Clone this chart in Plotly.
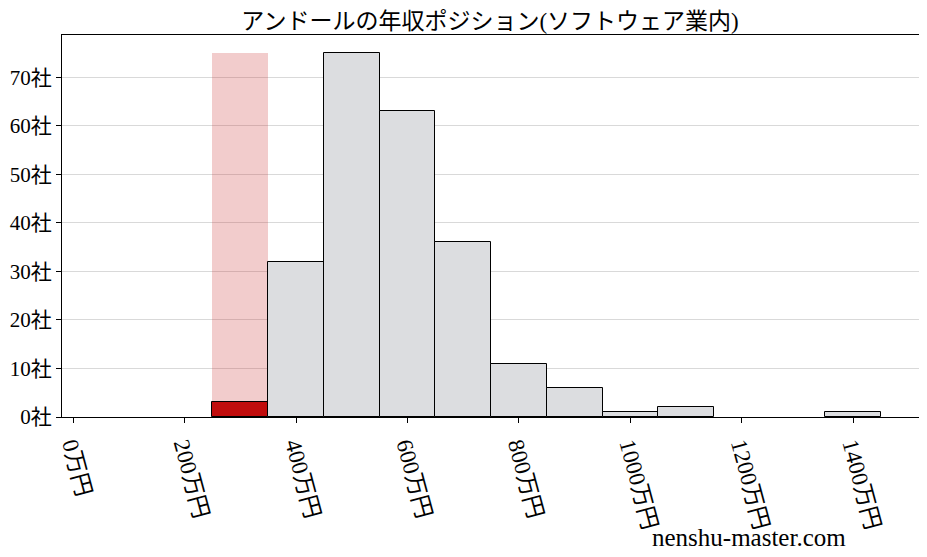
import plotly.graph_objects as go

# 年収ビン(万円)の中心と社数
bin_centers = [300, 400, 500, 600, 700, 800, 900, 1000, 1100, 1200, 1300, 1400]
counts = [3, 32, 75, 63, 36, 11, 6, 1, 2, 0, 0, 1]
highlight_center = 300
bin_width = 100
x_ticks = [0, 200, 400, 600, 800, 1000, 1200, 1400]
y_ticks = [0, 10, 20, 30, 40, 50, 60, 70]

font_family = "Liberation Serif, Noto Sans CJK JP, serif"

# the page body has an 8px margin, so the figure is drawn 8px smaller
W, H = 919, 549
L, R, T, B = 54, 8, 27, 140

fig = go.Figure()

# 自社のビンを薄い赤で強調
fig.add_trace(go.Bar(
    x=[highlight_center], y=[max(counts)], width=bin_width,
    marker=dict(color="rgba(204,51,51,0.25)", line=dict(width=0)),
    hoverinfo="skip", showlegend=False,
))

colors = ["#c00c0c" if c == highlight_center else "#dcdde0" for c in bin_centers]
edge_w = [1 if n > 0 else 0 for n in counts]
fig.add_trace(go.Bar(
    x=bin_centers, y=counts, width=bin_width,
    marker=dict(color=colors, line=dict(color="black", width=edge_w)),
    showlegend=False,
))

fig.update_layout(
    width=W, height=H,
    margin=dict(l=L, r=R, t=T, b=B),
    plot_bgcolor="white", paper_bgcolor="white",
    barmode="overlay", bargap=0,
    font=dict(family=font_family, color="black", size=23),
    title=dict(text="アンドールの年収ポジション(ソフトウェア業内)", x=(490 - 8) / W, xanchor="center",
               y=1 - 13 / H, yanchor="middle", font=dict(size=23)),
    xaxis=dict(
        range=[-20, 1518], tickmode="array", tickvals=x_ticks,
        ticktext=[f"{v}万円" for v in x_ticks], tickangle=75, automargin=False,
        showgrid=False, zeroline=False, ticks="outside", ticklen=5, tickcolor="black",
        showline=True, linecolor="black", mirror=True, linewidth=1,
    ),
    yaxis=dict(
        range=[0, 78.7], tickmode="array", tickvals=y_ticks,
        ticktext=[f"{v}社" for v in y_ticks], automargin=False,
        tickfont=dict(size=21),
        showgrid=True, gridcolor="#d9d9d9", gridwidth=1, zeroline=False,
        ticks="outside", ticklen=5, tickcolor="black",
        showline=True, linecolor="black", mirror=True, linewidth=1,
    ),
    annotations=[dict(
        text="nenshu-master.com", xref="paper", yref="paper",
        x=(848 - 62) / 857, y=-(537 - 417) / 382, xanchor="right", yanchor="middle",
        showarrow=False, font=dict(size=25),
    )],
)

fig.write_html("out.html")
